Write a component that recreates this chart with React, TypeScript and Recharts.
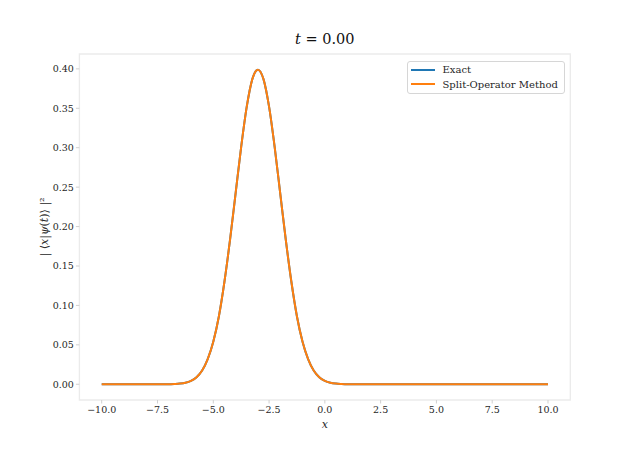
import React from 'react';
import { LineChart, Line, XAxis, YAxis, ReferenceArea } from 'recharts';

const xValues = [-10, -9, -8, -7.5, -7, -6.75, -6.5, -6.25, -6, -5.75, -5.5, -5.25, -5, -4.75, -4.5, -4.25, -4, -3.75, -3.5, -3.25, -3, -2.75, -2.5, -2.25, -2, -1.75, -1.5, -1.25, -1, -0.75, -0.5, -0.25, 0, 0.25, 0.5, 0.75, 1, 1.5, 2, 3, 4, 5, 6, 7, 8, 9, 10];
const exactValues = [0, 0, 0, 0, 0.0001, 0.0004, 0.0009, 0.002, 0.0044, 0.009, 0.0175, 0.032, 0.054, 0.086, 0.13, 0.183, 0.242, 0.301, 0.352, 0.387, 0.399, 0.387, 0.352, 0.301, 0.242, 0.183, 0.13, 0.086, 0.054, 0.032, 0.0175, 0.009, 0.0044, 0.002, 0.0009, 0.0004, 0.0001, 0, 0, 0, 0, 0, 0, 0, 0, 0, 0];
const splitValues = [0, 0, 0, 0, 0.0001, 0.0004, 0.0009, 0.002, 0.0044, 0.009, 0.0175, 0.032, 0.054, 0.086, 0.13, 0.183, 0.242, 0.301, 0.352, 0.387, 0.399, 0.387, 0.352, 0.301, 0.242, 0.183, 0.13, 0.086, 0.054, 0.032, 0.0175, 0.009, 0.0044, 0.002, 0.0009, 0.0004, 0.0001, 0, 0, 0, 0, 0, 0, 0, 0, 0, 0];
const xTicks = [-10, -7.5, -5, -2.5, 0, 2.5, 5, 7.5, 10];
const yTicks = [0, 0.05, 0.1, 0.15, 0.2, 0.25, 0.3, 0.35, 0.4];
const xDomain = [-11, 11];
const yDomain = [-0.01995, 0.41885];
const seriesNames = ['Exact', 'Split-Operator Method'];
const seriesColors = ['#1f77b4', '#ff7f0e'];
const titleText = '0.00';

const data = xValues.map((x, i) => ({ x, exact: exactValues[i], split: splitValues[i] }));

const FONT = "'DejaVu Serif', serif";
const TEXT = '#262626';

const fmtX = (v: number) => {
  const s = Math.abs(v).toFixed(1);
  return v < 0 ? '\u2212' + s : s;
};
const fmtY = (v: number) => v.toFixed(2);

const YLabel = (props: any) => {
  const vb = props.viewBox || {};
  const cy = (vb.y || 0) + (vb.height || 0) / 2;
  const cx = 44;
  return (
    <text x={cx} y={cy} transform={`rotate(-90 ${cx} ${cy})`} textAnchor="middle" dominantBaseline="central" style={{ fontFamily: FONT, fontSize: 11 }} fill={TEXT}>
      {'| \u27E8'}
      <tspan fontStyle="italic">x</tspan>
      {'|'}
      <tspan fontStyle="italic">{'\u03C8'}</tspan>
      {'('}
      <tspan fontStyle="italic">t</tspan>
      {')\u27E9 |\u00B2'}
    </text>
  );
};

const XLabel = (props: any) => {
  const vb = props.viewBox || {};
  const cx = (vb.x || 0) + (vb.width || 0) / 2;
  return (
    <text x={cx} y={428} textAnchor="middle" style={{ fontFamily: FONT, fontSize: 11, fontStyle: 'italic' }} fill={TEXT}>
      x
    </text>
  );
};

const tickStyle = { fill: TEXT, fontSize: 9.5, fontFamily: FONT, style: { fontFamily: FONT } };

export default function App() {
  return (
    <div style={{ position: 'absolute', left: 0, top: 0, width: 634, height: 450, background: '#fff', fontFamily: FONT }}>
      <div
        style={{
          position: 'absolute',
          top: 29,
          left: 79.4,
          width: 570.3 - 79.4,
          textAlign: 'center',
          fontFamily: FONT,
          fontSize: 14.5,
          color: '#111',
          lineHeight: '20px',
        }}
      >
        <span style={{ fontStyle: 'italic' }}>t</span> = {titleText}
      </div>
      <LineChart width={634} height={450} data={data} margin={{ top: 54, right: 63.7, bottom: 0, left: 0 }}>
        <ReferenceArea x1={xDomain[0]} x2={xDomain[1]} y1={yDomain[0]} y2={yDomain[1]} fill="none" stroke="#ebebeb" strokeWidth={1.3} ifOverflow="visible" />
        <XAxis
          type="number"
          dataKey="x"
          domain={xDomain}
          ticks={xTicks}
          tickFormatter={fmtX}
          height={50}
          axisLine={false}
          tickLine={{ stroke: '#d0d0d0' }}
          tickSize={3.5}
          tickMargin={2.5}
          tick={tickStyle}
          allowDataOverflow
          label={<XLabel />}
        />
        <YAxis
          type="number"
          domain={yDomain}
          ticks={yTicks}
          tickFormatter={fmtY}
          width={79.4}
          axisLine={false}
          tickLine={{ stroke: '#d0d0d0' }}
          tickSize={3.5}
          tickMargin={2}
          tick={tickStyle}
          allowDataOverflow
          label={<YLabel />}
        />
        <Line type="monotone" dataKey="exact" name={seriesNames[0]} stroke={seriesColors[0]} strokeWidth={2} dot={false} isAnimationActive={false} />
        <Line type="monotone" dataKey="split" name={seriesNames[1]} stroke={seriesColors[1]} strokeWidth={2} dot={false} isAnimationActive={false} />
      </LineChart>
      <div
        style={{
          position: 'absolute',
          left: 406.5,
          top: 60.5,
          width: 158.5,
          height: 33.5,
          border: '1px solid #d6d6d6',
          borderRadius: 3,
          background: 'rgba(255,255,255,0.8)',
          boxSizing: 'border-box',
          fontFamily: FONT,
          fontSize: 10,
          color: TEXT,
        }}
      >
        {seriesNames.map((n, i) => (
          <div key={n} style={{ position: 'absolute', left: 3, top: 1 + i * 14.6, height: 14, display: 'flex', alignItems: 'center', whiteSpace: 'nowrap' }}>
            <span style={{ display: 'inline-block', width: 24, height: 2, background: seriesColors[i], marginRight: 8 }} />
            <span>{n}</span>
          </div>
        ))}
      </div>
    </div>
  );
}
